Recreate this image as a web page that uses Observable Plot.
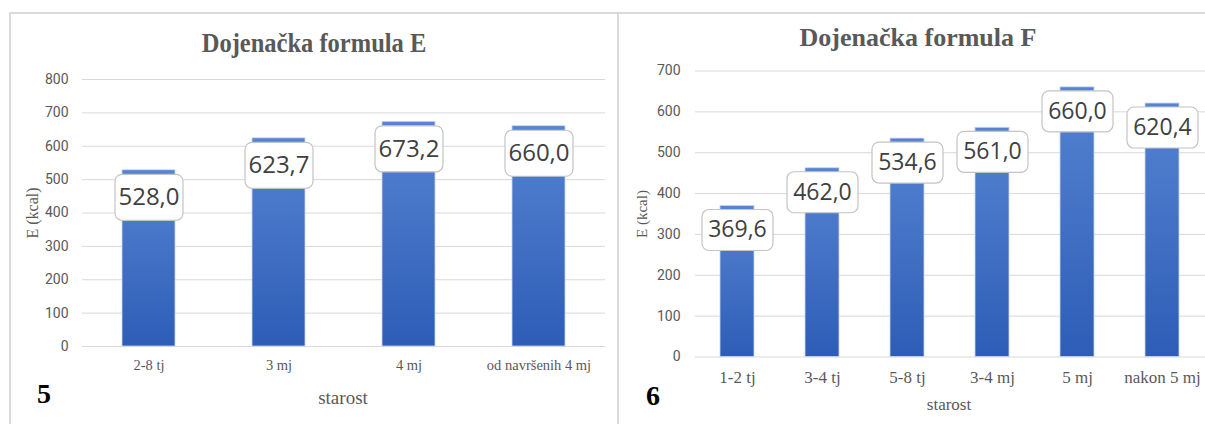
<!DOCTYPE html>
<html>
<head>
<meta charset="utf-8">
<script src="https://cdn.jsdelivr.net/npm/d3@7"></script>
<script src="https://cdn.jsdelivr.net/npm/@observablehq/plot@0.6"></script>
<style>
  html, body { margin: 0; padding: 0; background: #ffffff; }
  #page { position: relative; width: 1205px; height: 424px; overflow: hidden; background: #ffffff; }
  .abs { position: absolute; white-space: nowrap; line-height: 1; }
  .serif { font-family: "Liberation Serif", "DejaVu Serif", serif; }
  .title { font-weight: bold; color: #595959; text-align: center; }
  .border { position: absolute; border-top: 2px solid #dadada; border-left: 2px solid #dadada; z-index: 5; }
  .chart { position: absolute; top: 0; }
  .chart svg { background: none !important; max-width: none !important; }
</style>
</head>
<body>
<div id="page">
  <div class="border" style="left:9px; top:12px; width:607px; height:420px;"></div>
  <div class="border" style="left:617px; top:12px; width:600px; height:420px;"></div>

  <div id="chartE" class="chart" style="left:0px;"></div>
  <div id="chartF" class="chart" style="left:610px;"></div>

  <div class="abs serif title" style="left:114px; top:29px; width:400px; font-size:28px; transform:scaleX(0.875);">Dojenačka formula E</div>
  <div class="abs serif title" style="left:718px; top:25px; width:400px; font-size:26px;">Dojenačka formula F</div>

  <div class="abs serif" style="left:33px; top:213px; font-size:16px; color:#595959; transform:translate(-50%,-50%) rotate(-90deg);">E (kcal)</div>
  <div class="abs serif" style="left:642px; top:214px; font-size:15px; color:#595959; transform:translate(-50%,-50%) rotate(-90deg);">E (kcal)</div>

  <div class="abs serif" style="left:343px; top:397px; font-size:19px; color:#595959; transform:translate(-50%,-50%);">starost</div>
  <div class="abs serif" style="left:949px; top:404px; font-size:17px; color:#595959; transform:translate(-50%,-50%);">starost</div>

  <div class="abs serif" style="left:44px; top:394px; font-size:28px; font-weight:bold; color:#000; transform:translate(-50%,-50%);">5</div>
  <div class="abs serif" style="left:653px; top:396px; font-size:28px; font-weight:bold; color:#000; transform:translate(-50%,-50%);">6</div>
</div>

<script>
// ---- Data ----
const categoriesE = ["2-8 tj", "3 mj", "4 mj", "od navršenih 4 mj"];
const valuesE = [528.0, 623.7, 673.2, 660.0];
const yTicksE = [0, 100, 200, 300, 400, 500, 600, 700, 800];

const categoriesF = ["1-2 tj", "3-4 tj", "5-8 tj", "3-4 mj", "5 mj", "nakon 5 mj"];
const valuesF = [369.6, 462.0, 534.6, 561.0, 660.0, 620.4];
const yTicksF = [0, 100, 200, 300, 400, 500, 600, 700];

const fmt = v => d3.format(".1f")(v).replace(".", ",");

function roundedBox(w, h, r) {
  return {
    draw(ctx) {
      const x0 = -w / 2, y0 = -h / 2, x1 = w / 2, y1 = h / 2;
      ctx.moveTo(x0 + r, y0);
      ctx.lineTo(x1 - r, y0);
      ctx.arcTo(x1, y0, x1, y0 + r, r);
      ctx.lineTo(x1, y1 - r);
      ctx.arcTo(x1, y1, x1 - r, y1, r);
      ctx.lineTo(x0 + r, y1);
      ctx.arcTo(x0, y1, x0, y1 - r, r);
      ctx.lineTo(x0, y0 + r);
      ctx.arcTo(x0, y0, x0 + r, y0, r);
      ctx.closePath();
    }
  };
}

function makeChart(opts) {
  const data = opts.categories.map((c, i) => ({cat: c, val: opts.values[i], label: fmt(opts.values[i])}));
  const svg = Plot.plot({
    width: opts.width,
    height: 424,
    marginLeft: opts.marginLeft,
    marginRight: opts.marginRight,
    marginTop: opts.marginTop,
    marginBottom: opts.marginBottom,
    style: {background: "none", overflow: "visible"},
    x: {domain: opts.categories, paddingInner: opts.pad, paddingOuter: opts.pad / 2, label: null},
    y: {domain: [0, opts.ticks[opts.ticks.length - 1]], label: null},
    marks: [
      Plot.gridY(opts.ticks, {stroke: "#d9d9d9", strokeOpacity: 1, strokeWidth: 1}),
      Plot.axisY(opts.ticks, {tickSize: 0, tickPadding: opts.yPad, fontSize: 14, fontFamily: "Roboto, 'Open Sans', sans-serif", fill: "#595959", label: null}),
      Plot.axisX({tickSize: 0, tickPadding: opts.xPad, fontSize: opts.xFont, fontFamily: "'Liberation Serif', 'DejaVu Serif', serif", fill: "#595959", label: null}),
      Plot.barY(data, {x: "cat", y: "val", fill: `url(#${opts.id}-grad)`, stroke: "#c9d6ef", strokeWidth: 0.8}),
      Plot.dot(data, {x: "cat", y: "val", dy: opts.dy, r: 10, symbol: roundedBox(opts.boxW, opts.boxH, 7), fill: "#ffffff", stroke: "#c4c4c4", strokeWidth: 1.2}),
      Plot.text(data, {x: "cat", y: "val", dy: opts.dy, text: "label", fontSize: opts.labelFont, fontFamily: "'Open Sans', Roboto, sans-serif", fill: "#404040"})
    ]
  });
  d3.select(svg).insert("defs", ":first-child").html(
    `<linearGradient id="${opts.id}-grad" x1="0" y1="0" x2="0" y2="1">
       <stop offset="0" stop-color="#5683d2"/>
       <stop offset="1" stop-color="#2d5db6"/>
     </linearGradient>`);
  return svg;
}

document.getElementById("chartE").appendChild(makeChart({
  id: "e", categories: categoriesE, values: valuesE, ticks: yTicksE,
  width: 610, marginLeft: 82, marginRight: 5, marginTop: 79, marginBottom: 78,
  pad: 0.59, yPad: 14, xPad: 13, xFont: 14.5, dy: 27, boxW: 68, boxH: 46, labelFont: 24
}));

document.getElementById("chartF").appendChild(makeChart({
  id: "f", categories: categoriesF, values: valuesF, ticks: yTicksF,
  width: 595, marginLeft: 85, marginRight: 0, marginTop: 70.5, marginBottom: 67.5,
  pad: 0.6, yPad: 15, xPad: 14, xFont: 17, dy: 24, boxW: 71, boxH: 41, labelFont: 23
}));
</script>
</body>
</html>
